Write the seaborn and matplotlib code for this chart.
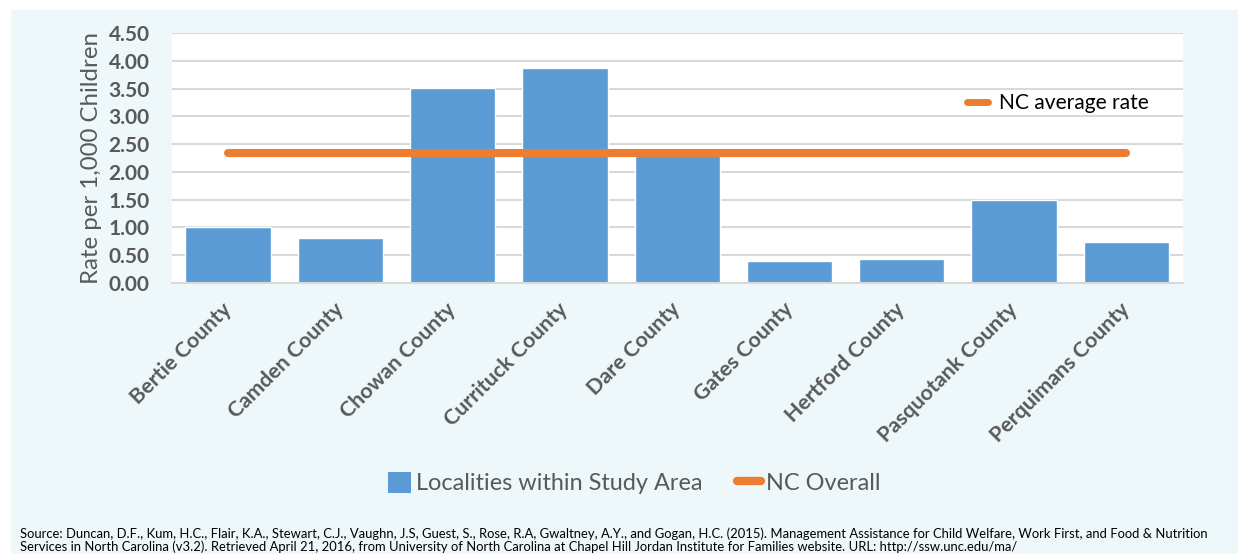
import matplotlib
matplotlib.use("Agg")
import matplotlib.pyplot as plt
from matplotlib.patches import Rectangle, Patch
from matplotlib.lines import Line2D
import pandas as pd
import seaborn as sns

counties = ["Bertie County", "Camden County", "Chowan County", "Currituck County",
            "Dare County", "Gates County", "Hertford County", "Pasquotank County",
            "Perquimans County"]
county_rates = [1.01, 0.80, 3.52, 3.87, 2.30, 0.39, 0.42, 1.50, 0.73]
nc_overall = [2.34, 2.34, 2.34, 2.34, 2.34, 2.34, 2.34, 2.34, 2.34]
y_ticks = [0.0, 0.5, 1.0, 1.5, 2.0, 2.5, 3.0, 3.5, 4.0, 4.5]

BLUE = "#5B9BD5"
ORANGE = "#ED7D31"
PANEL = "#EEF7F9"
TICK_GREY = "#595959"
FONT = ["Lato", "DejaVu Sans"]

sns.set_theme(style="white")
plt.rcParams["font.family"] = FONT

df = pd.DataFrame({"county": counties, "rate": county_rates, "nc": nc_overall})

fig = plt.figure(figsize=(12.38, 5.54), dpi=100)
fig.patch.set_facecolor("white")
fig.add_artist(Rectangle((11 / 1238, 0), 1, 1 - 10 / 554, transform=fig.transFigure,
                         facecolor=PANEL, edgecolor="none", zorder=0))

ax = fig.add_axes([0.1389, 0.4897, 0.8163, 0.4502])
ax.set_facecolor("white")

sns.barplot(data=df, x="county", y="rate", color=BLUE, width=0.76,
            saturation=1, ax=ax, zorder=2)
ax.plot(range(len(counties)), df["nc"], color=ORANGE, linewidth=5.8,
        solid_capstyle="round", zorder=3)

ax.set_ylim(0, 4.5)
ax.set_xlim(-0.5, len(counties) - 0.5)
ax.set_yticks(y_ticks)
ax.set_yticklabels([f"{t:.2f}" for t in y_ticks], fontsize=15,
                   fontweight="bold", color=TICK_GREY)
ax.yaxis.grid(True, color="#D9D9D9", linewidth=1.5, zorder=0)
ax.set_axisbelow(True)
ax.tick_params(axis="y", length=0, pad=16)
ax.tick_params(axis="x", length=0, pad=17)

ax.set_xticks(range(len(counties)))
ax.set_xticklabels(counties, rotation=45, ha="right", va="center",
                   rotation_mode="anchor", fontsize=15.4, fontweight="bold",
                   color=TICK_GREY)
ax.set_xlabel("")
ax.set_ylabel("Rate per 1,000 Children", fontsize=17.3, color=TICK_GREY, labelpad=5)

for side in ("top", "left", "right"):
    ax.spines[side].set_visible(False)
ax.spines["bottom"].set_color("#D9D9D9")
ax.spines["bottom"].set_linewidth(1.5)

ax.legend(handles=[Line2D([0], [0], color=ORANGE, linewidth=5)],
          labels=["NC average rate"], loc="upper right",
          bbox_to_anchor=(0.985, 0.835), frameon=False, fontsize=15.1,
          handlelength=1.0, handletextpad=0.5, labelcolor="black")

fig.legend(handles=[Patch(facecolor=BLUE, edgecolor="none"),
                    Line2D([0], [0], color=ORANGE, linewidth=6, solid_capstyle="round")],
           labels=["Localities within Study Area", "NC Overall"],
           loc="center", bbox_to_anchor=(0.512, 1 - 483 / 554), ncol=2,
           frameon=False, fontsize=16.9, handlelength=1.0, handleheight=1.0,
           handletextpad=0.2, columnspacing=1.5, labelcolor=TICK_GREY)

fig.text(20 / 1238, 1 - 534 / 554,
         "Source: Duncan, D.F., Kum, H.C., Flair, K.A., Stewart, C.J., Vaughn, J.S, Guest, S., "
         "Rose, R.A, Gwaltney, A.Y., and Gogan, H.C. (2015). Management Assistance for Child "
         "Welfare, Work First, and Food & Nutrition",
         fontsize=9.4, color="black", va="center", ha="left")
fig.text(20 / 1238, 1 - 547 / 554,
         "Services in North Carolina (v3.2). Retrieved April 21, 2016, from University of North "
         "Carolina at Chapel Hill Jordan Institute for Families website. URL: http://ssw.unc.edu/ma/",
         fontsize=9.4, color="black", va="center", ha="left")

fig.savefig("out.png", dpi=100)
